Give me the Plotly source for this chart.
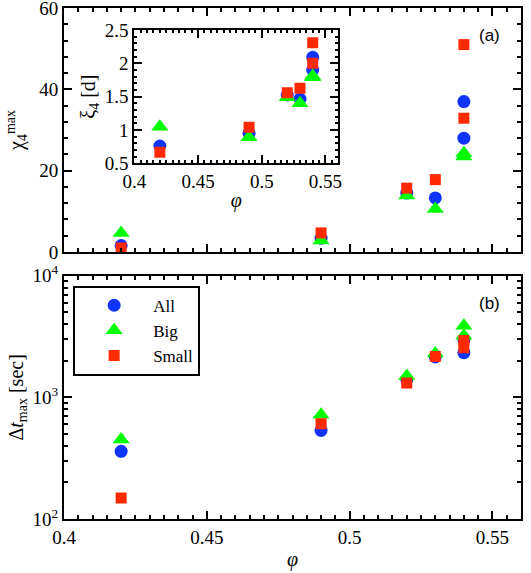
import plotly.graph_objects as go

phi = [0.42, 0.49, 0.52, 0.53, 0.54, 0.54]

chi4_all = [1.6, 3.4, 14.5, 13.3, 37.0, 28.0]
chi4_big = [4.7, 2.8, 13.9, 10.6, 24.3, 23.5]
chi4_small = [1.0, 4.7, 15.7, 17.8, 51.0, 32.9]

xi4_all = [0.76, 0.95, 1.525, 1.465, 2.09, 1.90]
xi4_big = [1.05, 0.89, 1.49, 1.40, 1.81, 1.79]
xi4_small = [0.665, 1.04, 1.56, 1.625, 2.31, 2.00]

dt_all = [360, 535, 1400, 2150, 2980, 2330]
dt_big = [450, 720, 1500, 2300, 3880, 3210]
dt_small = [149, 608, 1310, 2170, 2940, 2560]

series_names = ["All", "Big", "Small"]
colors = ["#1034ff", "#00ff00", "#ff2a00"]
symbols = ["circle", "triangle-up", "square"]
sizes = [13, 15, 11]

SERIF = "Liberation Serif, Times New Roman, Times, serif"
fig = go.Figure()

panels = [
    ([chi4_all, chi4_big, chi4_small], "x2", "y2", False),
    ([xi4_all, xi4_big, xi4_small], "x3", "y3", False),
    ([dt_all, dt_big, dt_small], "x", "y", True),
]
for data, xa, ya, legend in panels:
    for vals, name, c, s, sz in zip(data, series_names, colors, symbols, sizes):
        fig.add_trace(go.Scatter(
            x=phi, y=vals, mode="markers", name=name, showlegend=legend,
            marker=dict(color=c, symbol=s, size=sz, line=dict(width=0)),
            xaxis=xa, yaxis=ya))

tickfont = dict(family=SERIF, size=19, color="black")
common = dict(showline=True, linecolor="black", linewidth=2, mirror="allticks",
              ticks="inside", ticklen=8, tickwidth=1.5, tickcolor="black",
              showgrid=False, zeroline=False, tickfont=tickfont, automargin=False,
              ticklabeloverflow="allow")
titlefont = dict(family=SERIF, size=20, color="black")

fig.update_layout(
    width=531, height=573,
    margin=dict(l=64, r=10, t=8, b=54),
    paper_bgcolor="white", plot_bgcolor="white",
    font=dict(family=SERIF, color="black"),
    xaxis=dict(domain=[0, 1], anchor="y", range=[0.4, 0.56],
               tickvals=[0.4, 0.45, 0.5, 0.55], ticktext=["0.4", "0.45", "0.5", "0.55"],
               minor=dict(dtick=0.005, tick0=0.4, ticks="inside", ticklen=4, tickcolor="black"),
               title=dict(text="<i>φ</i>", font=titlefont, standoff=5),
               **common),
    yaxis=dict(domain=[0, 0.476], anchor="x", type="log", range=[2, 4],
               tickvals=[100, 1000, 10000],
               ticktext=["10<sup>2</sup>", "10<sup>3</sup>", "10<sup>4</sup>"],
               minor=dict(tickvals=[200, 300, 400, 500, 600, 700, 800, 900,
                                    2000, 3000, 4000, 5000, 6000, 7000, 8000, 9000],
                          ticks="inside", ticklen=4, tickcolor="black"),
               title=dict(text="Δ<i>t</i><sub>max</sub> [sec]", font=titlefont, standoff=4),
               **common),
    xaxis2=dict(domain=[0, 1], anchor="y2", range=[0.4, 0.56], showticklabels=False,
                tickvals=[0.4, 0.45, 0.5, 0.55],
                minor=dict(dtick=0.005, tick0=0.4, ticks="inside", ticklen=4, tickcolor="black"),
                **common),
    yaxis2=dict(domain=[0.5225, 1.0], anchor="x2", range=[0, 60],
                tickvals=[0, 20, 40, 60],
                minor=dict(dtick=4, tick0=0, ticks="inside", ticklen=4, tickcolor="black"),
                title=dict(text="χ<sub>4</sub><sup>max</sup>", font=titlefont, standoff=10),
                **common),
    xaxis3=dict(domain=[0.154, 0.600], anchor="y3", range=[0.4, 0.56],
                tickvals=[0.4, 0.45, 0.5, 0.55], ticktext=["0.4", "0.45", "0.5", "0.55"],
                minor=dict(dtick=0.005, tick0=0.4, ticks="inside", ticklen=3, tickcolor="black"),
                title=dict(text="<i>φ</i>", font=titlefont, standoff=2),
                **common),
    yaxis3=dict(domain=[0.696, 0.957], anchor="x3", range=[0.5, 2.5],
                tickvals=[0.5, 1, 1.5, 2, 2.5], ticktext=["0.5", "1", "1.5", "2", "2.5"],
                minor=dict(dtick=0.1, tick0=0.5, ticks="inside", ticklen=3, tickcolor="black"),
                title=dict(text="ξ<sub>4</sub> [d]", font=titlefont, standoff=4),
                **common),
    legend=dict(x=0.02, y=0.4566, xanchor="left", yanchor="top",
                bordercolor="black", borderwidth=2, bgcolor="white",
                font=dict(family=SERIF, size=17, color="black"),
                itemwidth=68, tracegroupgap=0),
    annotations=[
        dict(text="(a)", x=0.932, y=0.947, xref="paper", yref="paper", showarrow=False,
             xanchor="center", yanchor="middle",
             font=dict(family="Liberation Sans, Arial, sans-serif", size=17, color="black")),
        dict(text="(b)", x=0.932, y=0.4227, xref="paper", yref="paper", showarrow=False,
             xanchor="center", yanchor="middle",
             font=dict(family="Liberation Sans, Arial, sans-serif", size=17, color="black")),
    ],
)

fig.write_html("out.html", config={"displayModeBar": False},
               post_script="document.body.style.margin='0px';")
